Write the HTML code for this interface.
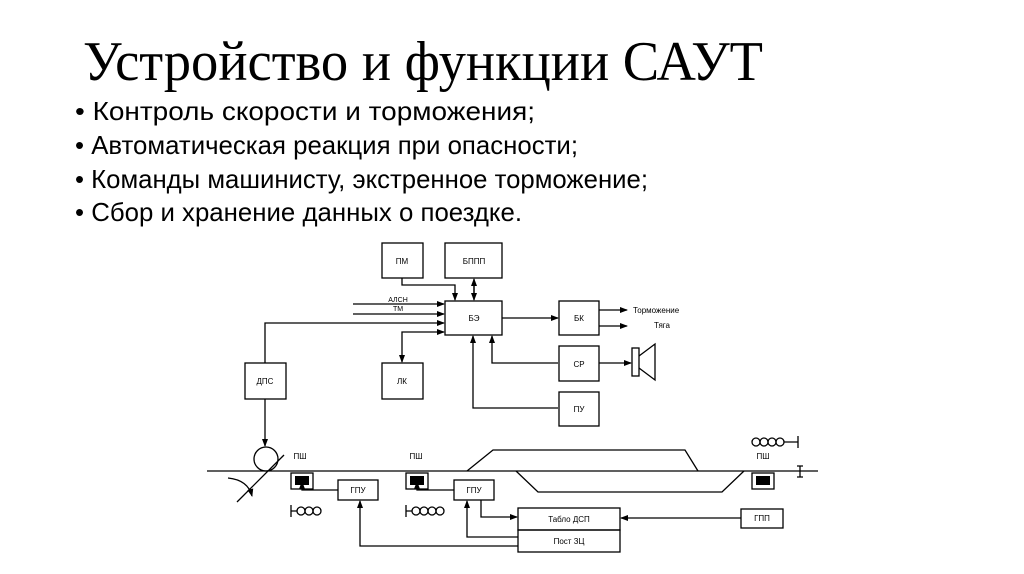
<!DOCTYPE html>
<html><head><meta charset="utf-8"><style>
html,body{margin:0;padding:0;background:#fff;}
svg{display:block}
.t{font-family:"Liberation Sans",sans-serif;font-size:8px;fill:#000}
</style></head><body>
<svg width="1024" height="574" viewBox="0 0 1024 574" xmlns="http://www.w3.org/2000/svg">
<defs>
<marker id="a" markerWidth="8" markerHeight="6" refX="7" refY="3" orient="auto" markerUnits="userSpaceOnUse"><path d="M0,0 L8,3 L0,6z" fill="#000"/></marker>
</defs>
<text x="83" y="80" font-family="'Liberation Serif',serif" font-size="56" textLength="680" lengthAdjust="spacingAndGlyphs">Устройство и функции САУТ</text>
<g font-family="'Liberation Sans',sans-serif" font-size="26">
<text x="75" y="120" textLength="460" lengthAdjust="spacingAndGlyphs">• Контроль скорости и торможения;</text>
<text x="75" y="154" textLength="503" lengthAdjust="spacingAndGlyphs">• Автоматическая реакция при опасности;</text>
<text x="75" y="188" textLength="573" lengthAdjust="spacingAndGlyphs">• Команды машинисту, экстренное торможение;</text>
<text x="75" y="221" textLength="447" lengthAdjust="spacingAndGlyphs">• Сбор и хранение данных о поездке.</text>
</g>
<g fill="none" stroke="#000" stroke-width="1.3">
<rect x="382" y="243" width="41" height="35"/>
<rect x="445" y="243" width="57" height="35"/>
<rect x="445" y="301" width="57" height="34"/>
<rect x="559" y="301" width="40" height="34"/>
<rect x="559" y="346" width="40" height="35"/>
<rect x="559" y="392" width="40" height="34"/>
<rect x="245" y="363" width="41" height="36"/>
<rect x="382" y="363" width="41" height="36"/>
<rect x="632" y="348" width="7" height="28"/>
<path d="M639,356 L655,344 L655,380 L639,368"/>
<path d="M402,278 V285 H455 V300" marker-end="url(#a)"/>
<path d="M474,285 V300" marker-end="url(#a)"/>
<path d="M474,294 V279" marker-end="url(#a)"/>
<path d="M353,304 H444" marker-end="url(#a)"/>
<path d="M353,314 H444" marker-end="url(#a)"/>
<path d="M265,363 V323 H444" marker-end="url(#a)"/>
<path d="M402,340 V332 H444" marker-end="url(#a)"/>
<path d="M402,340 V362" marker-end="url(#a)"/>
<path d="M502,318 H558" marker-end="url(#a)"/>
<path d="M599,310 H627" marker-end="url(#a)"/>
<path d="M599,326 H627" marker-end="url(#a)"/>
<path d="M599,363 H631" marker-end="url(#a)"/>
<path d="M558,363 H492 V336" marker-end="url(#a)"/>
<path d="M558,408 H473 V336" marker-end="url(#a)"/>
<path d="M265,399 V446" marker-end="url(#a)"/>
<path d="M207,471 H818"/>
<path d="M800,466 V477 M797,466 H803 M797,477 H803"/>
<circle cx="266" cy="459" r="12"/>
<path d="M237,502 L284,455"/>
<path d="M228,478 Q248,480 252,496" marker-end="url(#a)"/>
<path d="M467,471 L493,450 H685 L698,471"/>
<path d="M516,471 L538,492 H722 L744,471"/>
<rect x="291" y="473" width="22" height="16"/>
<rect x="406" y="473" width="22" height="16"/>
<rect x="752" y="473" width="22" height="16"/>
<rect x="338" y="480" width="40" height="20"/>
<rect x="454" y="480" width="40" height="20"/>
<rect x="518" y="508" width="102" height="22"/>
<rect x="518" y="530" width="102" height="22"/>
<rect x="741" y="509" width="42" height="19"/>
<path d="M338,490 H302 V482" marker-end="url(#a)"/>
<path d="M454,490 H417 V482" marker-end="url(#a)"/>
<path d="M518,546 H360 V501" marker-end="url(#a)"/>
<path d="M518,537 H467 V501" marker-end="url(#a)"/>
<path d="M481,500 V517 H517" marker-end="url(#a)"/>
<path d="M741,518 H621" marker-end="url(#a)"/>
<path d="M291,505 V517 M291,511 H297"/>
<circle cx="301" cy="511" r="4"/><circle cx="309" cy="511" r="4"/><circle cx="317" cy="511" r="4"/>
<path d="M406,505 V517 M406,511 H412"/>
<circle cx="416" cy="511" r="4"/><circle cx="424" cy="511" r="4"/><circle cx="432" cy="511" r="4"/><circle cx="440" cy="511" r="4"/>
<circle cx="756" cy="442" r="4"/><circle cx="764" cy="442" r="4"/><circle cx="772" cy="442" r="4"/><circle cx="780" cy="442" r="4"/>
<path d="M784,442 H798 M798,436 V448"/>
</g>
<rect x="295" y="476" width="14" height="9" fill="#000"/>
<rect x="410" y="476" width="14" height="9" fill="#000"/>
<rect x="756" y="476" width="14" height="9" fill="#000"/>
<g class="t" text-anchor="middle">
<text x="402" y="264">ПМ</text>
<text x="474" y="264">БППП</text>
<text x="474" y="321">БЭ</text>
<text x="579" y="321">БК</text>
<text x="579" y="367">СР</text>
<text x="579" y="412">ПУ</text>
<text x="265" y="384">ДПС</text>
<text x="402" y="384">ЛК</text>
<text x="398" y="302" font-size="7">АЛСН</text>
<text x="398" y="311" font-size="7">ТМ</text>
<text x="300" y="459">ПШ</text>
<text x="416" y="459">ПШ</text>
<text x="763" y="459">ПШ</text>
<text x="358" y="493">ГПУ</text>
<text x="474" y="493">ГПУ</text>
<text x="569" y="522">Табло ДСП</text>
<text x="569" y="544">Пост ЗЦ</text>
<text x="762" y="521">ГПП</text>
</g>
<g class="t"><text x="633" y="313">Торможение</text><text x="654" y="328">Тяга</text></g>
</svg>
</body></html>
